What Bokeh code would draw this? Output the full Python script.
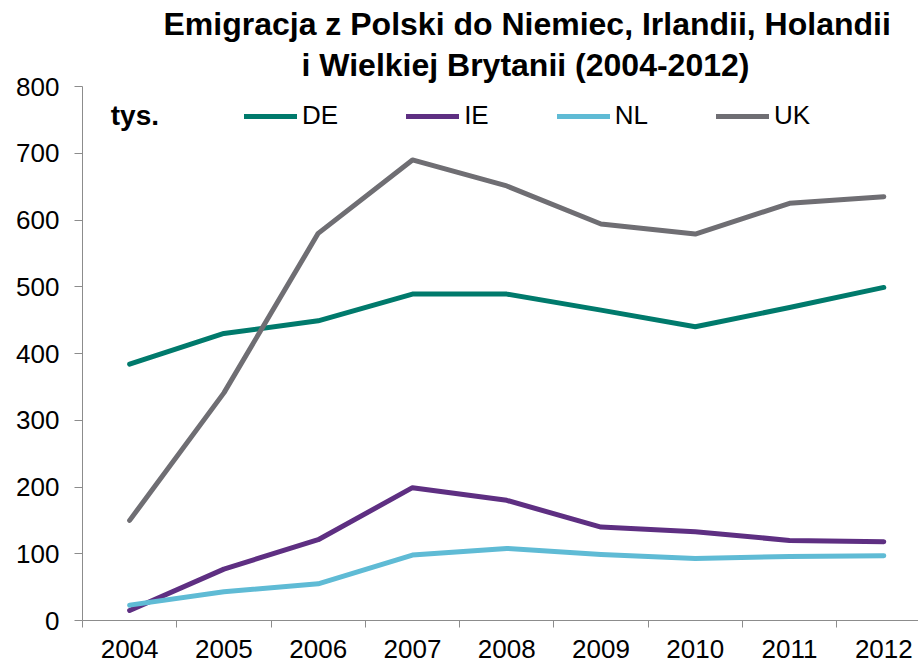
from bokeh.plotting import figure
from bokeh.models import Range1d, FixedTicker, Legend, LegendItem, Label, Title
from bokeh.embed import file_html
from bokeh.resources import INLINE

# ---- data (thousands of emigrants) ----
years = [2004, 2005, 2006, 2007, 2008, 2009, 2010, 2011, 2012]
tick_labels = ["2004", "2005", "2006", "2007", "2008", "2009", "2010", "2011", "2012"]
de = [384, 430, 449, 489, 489, 465, 440, 469, 499]
ie = [15, 77, 121, 199, 180, 140, 133, 120, 118]
nl = [23, 43, 55, 98, 108, 99, 93, 96, 97]
uk = [150, 341, 580, 690, 651, 594, 579, 625, 635]
y_ticks = [0, 100, 200, 300, 400, 500, 600, 700, 800]
series_names = ["DE", "IE", "NL", "UK"]
title_lines = ["Emigracja z Polski do Niemiec, Irlandii, Holandii",
               "i Wielkiej Brytanii (2004-2012)"]
unit_label = "tys."

colors = {"DE": "#007A6C", "IE": "#5E2F82", "NL": "#5FBBD5", "UK": "#6F6E73"}
FONT = "Liberation Sans"
AXIS_COL = "#8C8C8C"

p = figure(width=918, height=662, output_backend="svg", toolbar_location=None,
           title=None,
           x_range=Range1d(2003.5, 2012.368), y_range=Range1d(0, 800),
           min_border_left=82, min_border_right=0, min_border_top=86,
           min_border_bottom=42)
p.outline_line_color = None
p.xgrid.visible = False
p.ygrid.visible = False
p.background_fill_color = "white"
p.border_fill_color = "white"

# titles (first added sits closest to the plot)
p.add_layout(Title(text=title_lines[1], align="left", text_font=FONT,
                   text_font_size="32px", text_font_style="bold",
                   text_color="black", offset=219, standoff=7), "above")
p.add_layout(Title(text=title_lines[0], align="left", text_font=FONT,
                   text_font_size="32px", text_font_style="bold",
                   text_color="black", offset=81, standoff=0), "above")

renderers = {}
for name, vals in zip(series_names, [de, ie, nl, uk]):
    renderers[name] = p.line(years, vals, line_color=colors[name], line_width=5,
                             line_cap="round", line_join="round")

# x axis: labels at centres, minor ticks between categories
xax = p.xaxis[0]
xax.ticker = FixedTicker(ticks=years, minor_ticks=[y - 0.5 for y in years] + [2012.5])
xax.major_label_overrides = {y: t for y, t in zip(years, tick_labels)}
xax.major_tick_out = 0
xax.major_tick_in = 0
xax.minor_tick_out = 7
xax.minor_tick_in = 0
xax.minor_tick_line_color = AXIS_COL
xax.axis_line_color = AXIS_COL
xax.major_label_text_font = FONT
xax.major_label_text_font_size = "26px"
xax.major_label_text_color = "black"
xax.major_label_standoff = 12

yax = p.yaxis[0]
yax.ticker = FixedTicker(ticks=y_ticks)
yax.major_tick_out = 8
yax.major_tick_in = 0
yax.minor_tick_out = 0
yax.minor_tick_in = 0
yax.major_tick_line_color = AXIS_COL
yax.axis_line_color = AXIS_COL
yax.major_label_text_font = FONT
yax.major_label_text_font_size = "26px"
yax.major_label_text_color = "black"
yax.major_label_standoff = 15

legend = Legend(items=[LegendItem(label=n, renderers=[renderers[n]]) for n in series_names],
                orientation="horizontal", location=(162, 489),
                glyph_width=53, glyph_height=20, label_standoff=5, spacing=68,
                padding=0, margin=0, border_line_alpha=0, background_fill_alpha=0,
                label_text_font=FONT, label_text_font_size="26px",
                label_text_color="black")
p.add_layout(legend)

p.add_layout(Label(x=2003.8, y=756, text=unit_label, text_font=FONT,
                   text_font_size="28px", text_font_style="bold",
                   text_baseline="middle", text_align="left", text_color="black"))

open("out.html", "w").write(file_html(p, INLINE))
